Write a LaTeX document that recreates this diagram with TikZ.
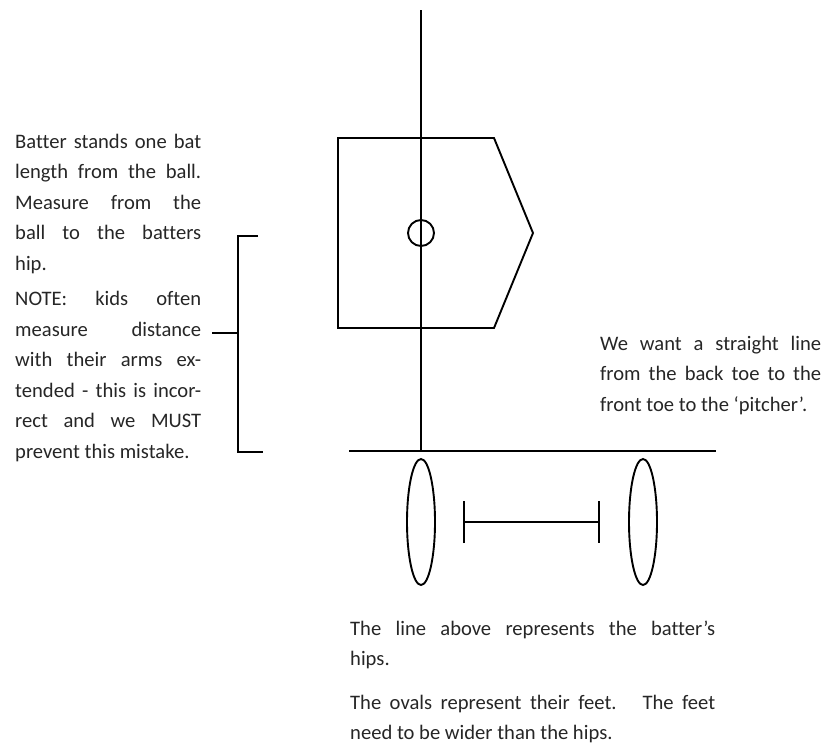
\documentclass[tikz,border=0pt]{standalone}
\usepackage{fontspec}
\setmainfont{Carlito}[Ligatures=NoCommon]
\usetikzlibrary{arrows.meta,positioning,shapes.geometric}

\begin{document}
\begin{tikzpicture}[x=1pt,y=-1pt,
  ln/.style={line width=1.9pt,black},
  note/.style={anchor=base west,inner sep=0pt,align=justify,text=black!85,
    font={\fontsize{20.6}{30.5}\selectfont\tolerance=10000\hyphenpenalty=10000}},
  foot/.style={ln,draw,ellipse,minimum width=28pt,minimum height=126pt,inner sep=0pt}]
  \useasboundingbox (0,0) rectangle (834,744);
  % Batter box and ball
  \draw[ln] (338,138) -- (494,138) -- (533,233) -- (494,328) -- (338,328) -- cycle;
  \coordinate (top) at (421,10);
  \coordinate (hipL) at (349,451);
  \coordinate (hipR) at (716,451);
  \coordinate (hipC) at (421,451);
  \draw[ln] (top) -- (hipC);
  \node[ln,draw,circle,minimum size=26pt,inner sep=0pt] (ball) at (421,233) {};
  % Hips and feet
  \draw[ln] (hipL) -- (hipR);
  \node[foot] (footL) at (421,522) {};
  \node[foot] (footR) at (643,522) {};
  \coordinate (barL) at (463,522);
  \coordinate (barR) at (600,522);
  \draw[ln,{Bar[width=42pt]}-{Bar[width=42pt]}] (barL) -- (barR);
  % Bracket
  \coordinate (brT) at (258,236);
  \coordinate (brB) at (263,452);
  \coordinate (brM) at (212,333);
  \draw[ln] (brT) -- (238,236) -- (238,452) -- (brB);
  \draw[ln] (brM) -- (238,333);
  % Notes
  \node[note,text width=186pt] (distnote) at (15,148)
    {Batter stands one bat\linebreak length from the ball.\linebreak Measure from the\linebreak ball to the batters\linebreak hip.\par\vspace{5pt}
     NOTE: kids often\linebreak measure distance\linebreak with their arms ex-\linebreak tended - this is incor-\linebreak rect and we MUST\linebreak prevent this mistake.};
  \node[note,text width=221pt] (linenote) at (600,350)
    {We want a straight line\linebreak from the back toe to the\linebreak front toe to the `pitcher'.};
  \node[note,text width=365pt] (hipnote) at (350,635)
    {The line above represents the batter's\linebreak hips.\par\vspace{13pt}
     The ovals represent their feet. \ The feet\linebreak need to be wider than the hips.};
\end{tikzpicture}
\end{document}
